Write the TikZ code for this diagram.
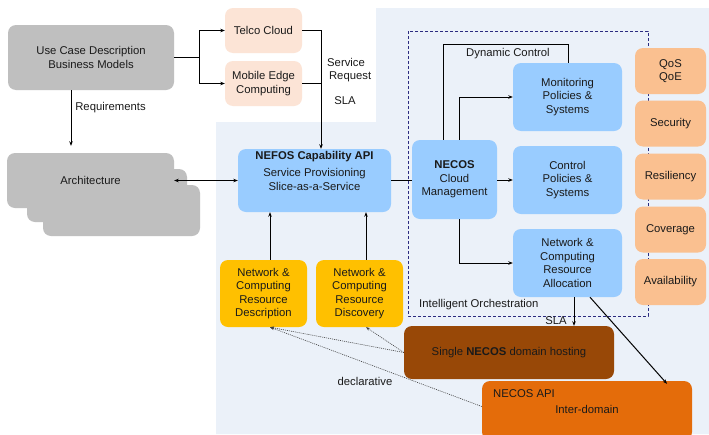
\documentclass[tikz,border=0pt]{standalone}
\usepackage{fontspec}
\setmainfont{Liberation Sans}
\usetikzlibrary{arrows.meta,calc}
\definecolor{bgblue}{HTML}{EBF1F9}
\definecolor{grayc}{HTML}{BFBFBF}
\definecolor{peach}{HTML}{FCE4D6}
\definecolor{nodeblue}{HTML}{99CCFF}
\definecolor{sideorange}{HTML}{FAC090}
\definecolor{yellowc}{HTML}{FFC000}
\definecolor{brownc}{HTML}{984807}
\definecolor{apiorange}{HTML}{E46C0A}
\definecolor{navy}{HTML}{2B2B80}
\definecolor{txt}{HTML}{1A1A1A}
\tikzset{
  box/.style={rounded corners=8pt, inner sep=0pt, align=center, text=txt,
    font=\fontsize{11.3}{13.5}\selectfont},
  lbl/.style={inner sep=0pt, align=center, text=txt, font=\fontsize{11.3}{13.5}\selectfont},
  arr/.style={line width=1pt, draw=black, -{Stealth[length=4.5pt,width=3.5pt]}},
  dbl/.style={line width=1pt, draw=black, {Stealth[length=4.5pt,width=3.5pt]}-{Stealth[length=4.5pt,width=3.5pt]}},
  plain/.style={line width=1pt, draw=black},
  dotarr/.style={line width=0.6pt, draw=black!75, dash pattern=on 1pt off 1pt, -{Stealth[length=4pt,width=3pt]}},
}
\begin{document}
\begin{tikzpicture}[x=1pt,y=-1pt]
\useasboundingbox (0,0) rectangle (709,434);
\fill[white] (0,0) rectangle (709,434);
% background region
\fill[bgblue] (216,122) -- (376,122) -- (376,8) -- (709,8) -- (709,434) -- (216,434) -- cycle;
% intelligent orchestration frame
\draw[navy, line width=0.9pt, dash pattern=on 3pt off 2pt] (408,31) rectangle (648,316);

% nodes
\node[box, fill=grayc, minimum width=166pt, minimum height=65pt] (usecase) at (91,57.5) {Use Case Description\\Business Models};
\node[box, fill=peach, minimum width=77pt, minimum height=45pt] (telco) at (263.5,30.5) {Telco Cloud};
\node[box, fill=peach, minimum width=77pt, minimum height=45pt] (mec) at (263.5,83.5) {Mobile Edge\\Computing};
\node[box, fill=grayc, minimum width=157pt, minimum height=51pt] (arch3) at (121.5,210.5) {};
\node[box, fill=grayc, minimum width=160pt, minimum height=53pt] (arch2) at (107,195.5) {};
\node[box, fill=grayc, minimum width=167pt, minimum height=55pt] (arch1) at (90.5,180.5) {Architecture};
\node[box, fill=nodeblue, minimum width=153pt, minimum height=63pt] (nefos) at (314.5,180.5) {};
\node[lbl, anchor=north] (nefostxt) at ([yshift=-2pt]nefos.north) {\textbf{NEFOS Capability API}\\[4pt]Service Provisioning\\Slice-as-a-Service};
\node[box, fill=nodeblue, minimum width=85pt, minimum height=79pt] (necos) at (454.5,179.5) {\textbf{NECOS}\\Cloud\\Management};
\node[box, fill=nodeblue, minimum width=109pt, minimum height=68pt] (mon) at (567.5,97) {Monitoring\\Policies \&\\Systems};
\node[box, fill=nodeblue, minimum width=109pt, minimum height=68pt] (ctrl) at (567.5,180) {Control\\Policies \&\\Systems};
\node[box, fill=nodeblue, minimum width=109pt, minimum height=68pt] (alloc) at (567.5,263) {Network \&\\Computing\\Resource\\Allocation};
\node[box, fill=sideorange, minimum width=71pt, minimum height=46pt] (qos) at (670.5,71) {QoS\\QoE};
\node[box, fill=sideorange, minimum width=71pt, minimum height=46pt] (sec) at (670.5,123.5) {Security};
\node[box, fill=sideorange, minimum width=71pt, minimum height=46pt] (res) at (670.5,176.5) {Resiliency};
\node[box, fill=sideorange, minimum width=71pt, minimum height=46pt] (cov) at (670.5,229.5) {Coverage};
\node[box, fill=sideorange, minimum width=71pt, minimum height=46pt] (avail) at (670.5,282) {Availability};
\node[box, fill=yellowc, minimum width=87pt, minimum height=67pt] (desc) at (263.5,293.5) {Network \&\\Computing\\Resource\\Description};
\node[box, fill=yellowc, minimum width=87pt, minimum height=67pt] (disc) at (359.5,293.5) {Network \&\\Computing\\Resource\\Discovery};
\node[box, fill=brownc, minimum width=210pt, minimum height=53pt] (single) at (509,352.5) {Single \textbf{NECOS} domain hosting};
\node[box, fill=apiorange, minimum width=210pt, minimum height=59pt] (api) at (587,410.5) {};
\node[lbl, anchor=west] (apitxt1) at (493,394) {NECOS API};
\node[lbl] (apitxt2) at (587,409) {Inter-domain};

% labels
\node[lbl] (req) at (110.5,108) {Requirements};
\node[lbl, anchor=west, align=left] (srq) at (327,70) {Service\\\,Request};
\node[lbl] (sla1) at (345,101) {SLA};
\node[lbl] (dyn) at (508,54) {Dynamic Control};
\node[lbl, anchor=west] (io) at (419,305) {Intelligent Orchestration};
\node[lbl] (sla2) at (556,321) {SLA};
\node[lbl] (decl) at (365,381) {declarative};

% helper coordinates
\coordinate (j1) at (199,57.5);
\coordinate (j2) at (321,0);
\coordinate (r1) at (71,0);
\coordinate (dcL) at (443,44);
\coordinate (dcR) at (568,44);
\coordinate (m1) at (459,0);
\coordinate (s1) at (574,0);
\coordinate (a1) at (590,0);
\coordinate (a2) at (667,0);
\coordinate (d1) at (270,0);
\coordinate (d2) at (366,0);

% connectors
\draw[plain] (usecase.east) -- (j1);
\draw[arr] (j1) |- (telco.west);
\draw[arr] (j1) |- (mec.west);
\draw[arr] (telco.east) -| (j2 |- nefos.north);
\draw[plain] (mec.east) -- (j2 |- mec.east);
\draw[arr, shorten >=7pt] (usecase.south -| r1) -- (arch1.north -| r1);
\draw[dbl] (arch1.east) -- (nefos.west);
\draw[plain] (nefos.east) -- (nefos.east -| necos.west);
\draw[arr] (necos.east |- ctrl.west) -- (ctrl.west);
\draw[plain] (necos.north -| dcL) |- (dcR) -- (mon.north -| dcR);
\draw[arr] (necos.north -| m1) |- (mon.west);
\draw[arr] (necos.south -| m1) |- (alloc.west);
\draw[arr] (alloc.south -| s1) -- (single.north -| s1);
\draw[arr] (alloc.south -| a1) -- ([yshift=-3pt]api.north -| a2);
\draw[arr] (desc.north -| d1) -- (nefos.south -| d1);
\draw[arr] (disc.north -| d2) -- (nefos.south -| d2);
\draw[dotarr] (single.west) -- (desc.south -| d1);
\draw[dotarr] (single.west) -- (disc.south -| d2);
\draw[dotarr] ([yshift=4pt]api.west) -- (desc.south -| d1);
\end{tikzpicture}
\end{document}
